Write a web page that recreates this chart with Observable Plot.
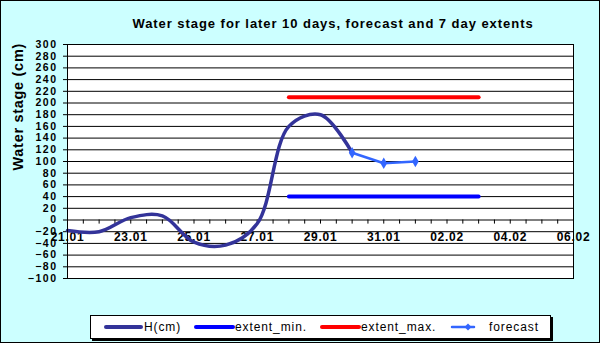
<!DOCTYPE html>
<html>
<head>
<meta charset="utf-8">
<script src="https://cdn.jsdelivr.net/npm/d3@7"></script>
<script src="https://cdn.jsdelivr.net/npm/@observablehq/plot@0.6"></script>
<style>
  html, body { margin: 0; padding: 0; background: #fff; }
  #wrap { position: relative; width: 600px; height: 343px; background: #ccffff; outline: 1px solid #000; outline-offset: -1px; overflow: hidden; font-family: "Liberation Sans", Arial, sans-serif; }
  #chart { position: absolute; left: 0; top: 0; }
  #chart svg text { letter-spacing: 0.7px; }
  #chart svg g[aria-label="y-axis tick label"] text { letter-spacing: 1.5px; }
  #title { position: absolute; left: 0; width: 666px; top: 16px; text-align: center; font-weight: bold; font-size: 13px; letter-spacing: 0.95px; white-space: nowrap; color: #000; }
  #legend { position: absolute; left: 90px; top: 315px; width: 459px; height: 22px; background: #fff; border: 1px solid #000; box-shadow: 2px 2px 0 #000; }
  .li { position: absolute; top: 0; height: 22px; }
  .li svg { position: absolute; top: 0; }
  .li span { position: absolute; top: 4px; font-size: 12px; letter-spacing: 0.9px; white-space: nowrap; color: #000; }
</style>
</head>
<body>
<div id="wrap">
  <div id="chart"></div>
  <div id="title">Water stage for later 10 days, forecast and 7 day extents</div>
  <div id="legend"></div>
</div>
<script>
// ---- data ----
const hDates = ["2013-01-21","2013-01-22","2013-01-23","2013-01-24","2013-01-25","2013-01-26","2013-01-27","2013-01-28","2013-01-29","2013-01-30"];
const hValues = [-18, -20, 4, 7, -38, -43, -6, 160, 180, 115];
const forecastDates = ["2013-01-30","2013-01-31","2013-02-01"];
const forecastValues = [115, 97, 100];
const extentDates = ["2013-01-28","2013-02-03"];
const extentMin = [40, 40];
const extentMax = [210, 210];
const xTickDates = ["2013-01-21","2013-01-23","2013-01-25","2013-01-27","2013-01-29","2013-01-31","2013-02-02","2013-02-04","2013-02-06"];
const xTickLabels = ["21.01","23.01","25.01","27.01","29.01","31.01","02.02","04.02","06.02"];
const yTicks = d3.range(-100, 301, 20);
const seriesNames = ["H(cm)", "extent_min.", "extent_max.", "forecast"];
const seriesColors = ["#333399", "#0000ff", "#ff0000", "#3366ff"];

const parse = d3.utcParse("%Y-%m-%d");
const hData = hDates.map((d, i) => ({date: parse(d), v: hValues[i]}));
const fData = forecastDates.map((d, i) => ({date: parse(d), v: forecastValues[i]}));
const minData = extentDates.map((d, i) => ({date: parse(d), v: extentMin[i]}));
const maxData = extentDates.map((d, i) => ({date: parse(d), v: extentMax[i]}));
const xTicks = xTickDates.map((d, i) => ({date: parse(d), label: xTickLabels[i]}));
const xDomain = [parse(xTickDates[0]), parse(xTickDates[xTickDates.length - 1])];
const minorTicks = d3.utcHour.every(12).range(xDomain[0], d3.utcHour.offset(xDomain[1], 1));

const chart = Plot.plot({
  width: 600,
  height: 343,
  marginLeft: 67,
  marginRight: 27,
  marginTop: 44,
  marginBottom: 65,
  style: {background: "transparent", fontFamily: "'Liberation Sans', Arial, sans-serif", color: "#000"},
  x: {type: "utc", domain: xDomain, axis: null},
  y: {domain: [-100, 300], axis: null},
  marks: [
    Plot.frame({fill: "white"}),
    Plot.ruleY(yTicks, {stroke: "#000", strokeWidth: 1}),
    Plot.axisY({ticks: yTicks, tickSize: 4, tickPadding: 6, label: null, fontSize: 10.5, fontWeight: "bold", stroke: "#000", strokeWidth: 1}),
    Plot.ruleX(minorTicks, {x: d => d, y1: 0, y2: -7, stroke: "#000", strokeWidth: 1}),
    Plot.text(xTicks, {x: "date", y: 0, text: "label", dy: 17, fontSize: 12, fontWeight: "bold", fill: "#000"}),
    Plot.text(["Water stage (cm)"], {frameAnchor: "left", rotate: -90, dx: -49, dy: 9, fontSize: 14.5, fontWeight: "bold", fill: "#000"}),
    Plot.line(minData, {x: "date", y: "v", stroke: seriesColors[1], strokeWidth: 4, strokeLinecap: "round"}),
    Plot.line(maxData, {x: "date", y: "v", stroke: seriesColors[2], strokeWidth: 4, strokeLinecap: "round"}),
    Plot.line(hData, {x: "date", y: "v", curve: "catmull-rom", stroke: seriesColors[0], strokeWidth: 3.5}),
    Plot.line(fData, {x: "date", y: "v", stroke: seriesColors[3], strokeWidth: 2.5}),
    Plot.dot(fData, {x: "date", y: "v", symbol: "diamond", r: 3.5, fill: seriesColors[3], stroke: null}),
    Plot.frame({stroke: "#000", strokeWidth: 1})
  ]
});
document.getElementById("chart").appendChild(chart);

// legend
const legendItems = [
  {x0: 15, x1: 50, tx: 53, marker: false},
  {x0: 105, x1: 142, tx: 144, marker: false},
  {x0: 231, x1: 268, tx: 270, marker: false},
  {x0: 361, x1: 383, tx: 398, marker: true}
];
const leg = document.getElementById("legend");
seriesNames.forEach((name, i) => {
  const it = legendItems[i];
  const div = document.createElement("div");
  div.className = "li";
  div.style.left = "0px";
  const w = it.x1 - it.x0 + 6;
  const sw = i === 3 ? 2.5 : 4;
  div.innerHTML = `<svg width="${w}" height="22" style="left:${it.x0 - 3}px">
    <line x1="3" x2="${w - 3}" y1="11" y2="11" stroke="${seriesColors[i]}" stroke-width="${sw}" stroke-linecap="round"/>
    ${it.marker ? `<path d="M${w - 9},7.5 L${w - 5.5},11 L${w - 9},14.5 L${w - 12.5},11Z" fill="${seriesColors[i]}"/>` : ""}
  </svg><span style="left:${it.tx}px">${name}</span>`;
  leg.appendChild(div);
});
</script>
</body>
</html>
